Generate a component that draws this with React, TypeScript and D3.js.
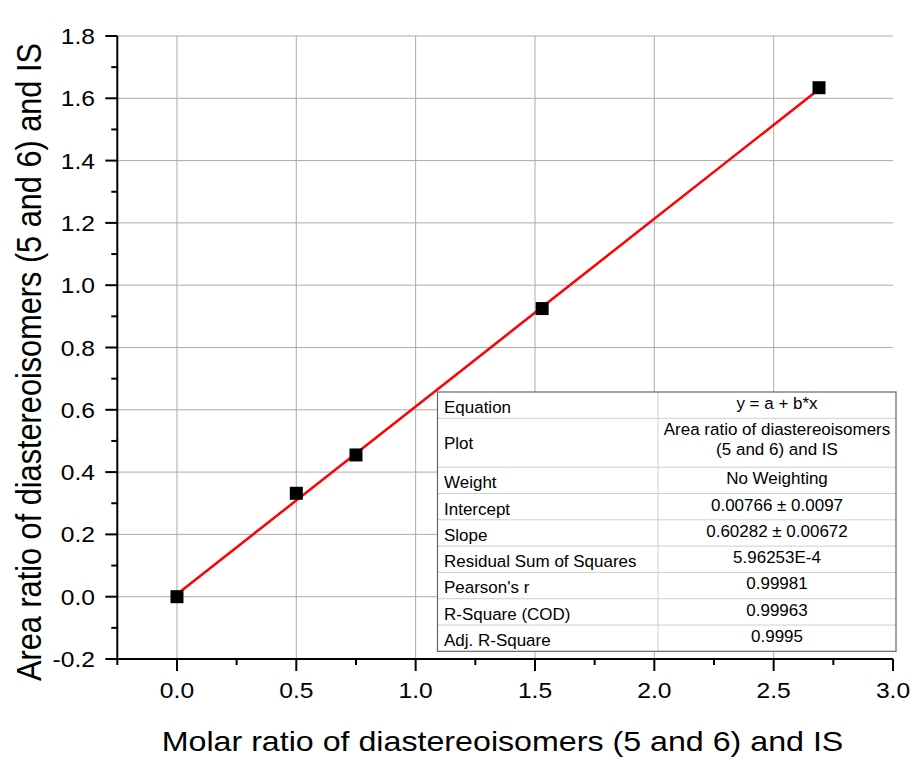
import React from "react";
import * as d3 from "d3";

const molarRatio = [0, 0.5, 0.75, 1.53, 2.69];
const areaRatio = [0, 0.332, 0.455, 0.925, 1.634];
const fitIntercept = 0.00766;
const fitSlope = 0.60282;

const xTicks = [0, 0.5, 1.0, 1.5, 2.0, 2.5, 3.0];
const yTicks = [-0.2, 0, 0.2, 0.4, 0.6, 0.8, 1.0, 1.2, 1.4, 1.6, 1.8];

const tableLabels = [
  "Equation",
  "Plot",
  "Weight",
  "Intercept",
  "Slope",
  "Residual Sum of Squares",
  "Pearson's r",
  "R-Square (COD)",
  "Adj. R-Square",
];
const tableValues = [
  ["y = a + b*x"],
  ["Area ratio of diastereoisomers", "(5 and 6) and IS"],
  ["No Weighting"],
  ["0.00766 \u00b1 0.0097"],
  ["0.60282 \u00b1 0.00672"],
  ["5.96253E-4"],
  ["0.99981"],
  ["0.99963"],
  ["0.9995"],
];

const FONT = "'Liberation Sans', Arial, Helvetica, sans-serif";
const SX = 1.12;

const T = ({ x, y, anchor = "start", size, sx = SX, rot = 0, children }: any) => (
  <text
    transform={`translate(${x},${y}) scale(${sx},1) rotate(${rot})`}
    textAnchor={anchor}
    fontSize={size}
    fontFamily={FONT}
    fill="#000"
  >
    {children}
  </text>
);

const fmt = (v: number) => d3.format(".1f")(v).replace("\u2212", "-");

export default function App() {
  const L = 117.3, R = 893, Tp = 36, B = 659;
  const x = d3.scaleLinear().domain([-0.25, 3.0]).range([L, R]);
  const y = d3.scaleLinear().domain([-0.2, 1.8]).range([B, Tp]);

  const xMinor = d3.range(-0.25, 3.001, 0.25).filter((v) => Math.abs(v / 0.5 - Math.round(v / 0.5)) > 1e-6);
  const yMinor = d3.range(-0.1, 1.8, 0.2);

  const xMin = d3.min(molarRatio)!;
  const xMax = d3.max(molarRatio)!;
  const fitLine = d3.line<number>()
    .x((d) => x(d))
    .y((d) => y(fitIntercept + fitSlope * d));

  // table geometry
  const tL = 437.5, tR = 896, tC = 658, tTop = 392;
  const rowH = 26.3;
  const rowSpans = tableLabels.map((_, i) => (i === 1 ? 1.86 : 1));
  const rowTops: number[] = [];
  let acc = tTop;
  rowSpans.forEach((s) => {
    rowTops.push(acc);
    acc += s * rowH;
  });
  const tBottom = acc;

  return (
    <svg width={916} height={760} style={{ position: "absolute", left: 0, top: 0, background: "#fff" }}>
      <rect x={0} y={0} width={916} height={760} fill="#fff" />
      {/* grid */}
      {xTicks.filter((v) => v < 3).map((v) => (
        <line key={"gx" + v} x1={x(v)} x2={x(v)} y1={Tp} y2={B} stroke="#ababab" strokeWidth={1} />
      ))}
      {yTicks.filter((v) => v > -0.2).map((v) => (
        <line key={"gy" + v} x1={L} x2={R} y1={y(v)} y2={y(v)} stroke="#ababab" strokeWidth={1} />
      ))}
      {/* fit line */}
      <path d={fitLine([xMin, xMax]) || ""} stroke="#ff0000" strokeWidth={2.5} fill="none" />
      {/* points */}
      {molarRatio.map((v, i) => (
        <rect
          key={"p" + i}
          x={x(v) - 6.5}
          y={y(areaRatio[i]) - 6.5}
          width={13}
          height={13}
          fill="#000"
        />
      ))}
      {/* table */}
      <g>
        <rect x={tL} y={tTop} width={tR - tL} height={tBottom - tTop} fill="#fff" stroke="none" />
        {rowTops.slice(1).map((ry, i) => (
          <line key={"rl" + i} x1={tL} x2={tR} y1={ry} y2={ry} stroke="#cfcfcf" strokeWidth={1} />
        ))}
        <line x1={tC} x2={tC} y1={tTop} y2={tBottom} stroke="#cfcfcf" strokeWidth={1} />
        <rect x={tL} y={tTop} width={tR - tL} height={tBottom - tTop} fill="none" stroke="#666" strokeWidth={1.2} />
        {tableLabels.map((lab, i) => (
          <T key={"tl" + i} x={444} y={rowTops[i] + (i === 1 ? 31 : 21)} size={16.5} sx={1.03}>
            {lab}
          </T>
        ))}
        {tableValues.map((vals, i) =>
          vals.map((v, j) => (
            <T
              key={"tv" + i + "-" + j}
              x={(tC + tR) / 2}
              y={rowTops[i] + 17 + j * 19.5}
              size={16.5}
              sx={1.03}
              anchor="middle"
            >
              {v}
            </T>
          ))
        )}
      </g>
      {/* axes */}
      <line x1={L} x2={L} y1={Tp} y2={B + 1} stroke="#000" strokeWidth={2} />
      <line x1={L - 1} x2={R} y1={B} y2={B} stroke="#000" strokeWidth={2} />
      {yTicks.map((v) => (
        <line key={"yt" + v} x1={L - 12} x2={L} y1={y(v)} y2={y(v)} stroke="#000" strokeWidth={2} />
      ))}
      {yMinor.map((v) => (
        <line key={"ym" + v} x1={L - 6} x2={L} y1={y(v)} y2={y(v)} stroke="#000" strokeWidth={2} />
      ))}
      {[-0.25, ...xTicks].map((v) => (
        <line key={"xt" + v} x1={x(v)} x2={x(v)} y1={B} y2={B + (v === -0.25 ? 6 : 12)} stroke="#000" strokeWidth={2} />
      ))}
      {xMinor.filter((v) => v > -0.2).map((v) => (
        <line key={"xm" + v} x1={x(v)} x2={x(v)} y1={B} y2={B + 6} stroke="#000" strokeWidth={2} />
      ))}
      {yTicks.map((v) => (
        <T key={"yl" + v} x={95} y={y(v) + 8} size={22} anchor="end">
          {fmt(v)}
        </T>
      ))}
      {xTicks.map((v) => (
        <T key={"xl" + v} x={x(v)} y={698} size={22} anchor="middle">
          {fmt(v)}
        </T>
      ))}
      <T x={(164 + 841) / 2} y={751} size={28.5} sx={1.13} anchor="middle">
        Molar ratio of diastereoisomers (5 and 6) and IS
      </T>
      <T x={41} y={362} size={30.7} sx={1.12} anchor="middle" rot={-90}>
        Area ratio of diastereoisomers (5 and 6) and IS
      </T>
    </svg>
  );
}
